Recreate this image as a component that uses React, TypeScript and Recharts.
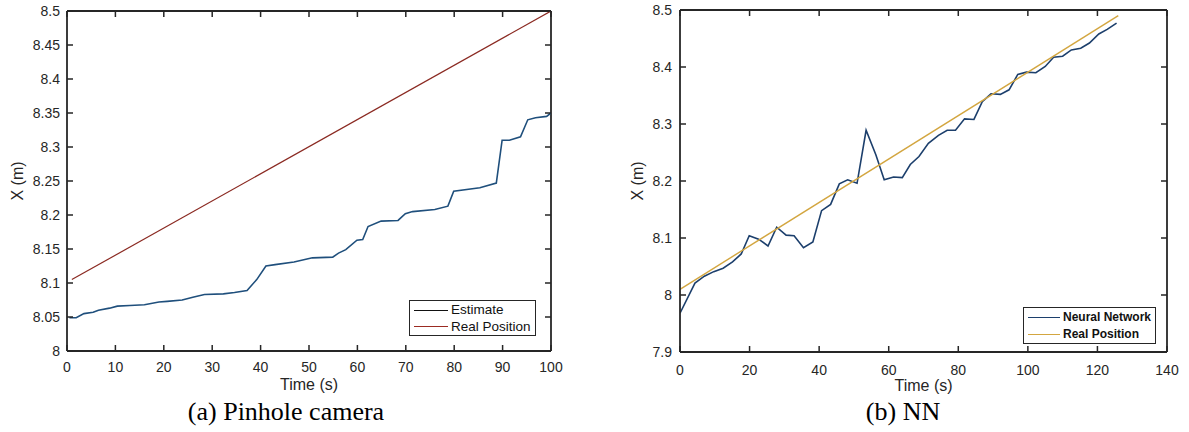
import { LineChart, Line, XAxis, YAxis, Label, ReferenceLine } from 'recharts';

// (a) pinhole camera
const pinTime = [0.5, 1.9, 3.5, 5.4, 6.5, 8.8, 10.4, 13, 16, 19, 20.7, 23.8, 26, 28.4, 32.3, 34.6, 37.2, 39.2, 41.1, 43, 46.9, 50.7, 54.9, 56.1, 57.6, 59.9, 61.1, 62.2, 64.9, 68.4, 69.9, 71.4, 76, 78.7, 79.9, 85.3, 88.7, 89.9, 91.4, 93.7, 95.2, 96.8, 99.1, 100];
const pinEstimate = [8.049, 8.049, 8.055, 8.057, 8.06, 8.063, 8.066, 8.067, 8.068, 8.072, 8.073, 8.075, 8.079, 8.083, 8.084, 8.086, 8.089, 8.105, 8.125, 8.127, 8.131, 8.137, 8.138, 8.144, 8.149, 8.163, 8.164, 8.183, 8.191, 8.192, 8.202, 8.205, 8.208, 8.213, 8.235, 8.24, 8.247, 8.31, 8.31, 8.315, 8.34, 8.343, 8.345, 8.35];
const pinRealTime = [1, 100];
const pinReal = [8.105, 8.5];
const pinXTicks = [0, 10, 20, 30, 40, 50, 60, 70, 80, 90, 100];
const pinYTicks = [8, 8.05, 8.1, 8.15, 8.2, 8.25, 8.3, 8.35, 8.4, 8.45, 8.5];

// (b) neural network
const nnTime = [0, 4.3, 7, 9.7, 12.4, 15.1, 17.6, 19.9, 22.6, 25.3, 27.8, 30.5, 32.8, 35.5, 38.2, 40.7, 43.3, 45.8, 48.2, 50.9, 53.5, 56.3, 58.7, 61.4, 63.9, 66.2, 68.7, 71.4, 74.3, 76.8, 79.2, 81.8, 84.5, 86.9, 89.4, 92.1, 94.6, 97.1, 99.6, 102.3, 105, 107.4, 110, 112.5, 115.2, 117.7, 120.4, 122.8, 125.5];
const nnEstimate = [7.968, 8.021, 8.033, 8.041, 8.047, 8.058, 8.072, 8.104, 8.098, 8.086, 8.119, 8.105, 8.104, 8.083, 8.093, 8.148, 8.159, 8.195, 8.202, 8.196, 8.289, 8.246, 8.202, 8.207, 8.206, 8.229, 8.243, 8.266, 8.28, 8.289, 8.289, 8.309, 8.308, 8.339, 8.353, 8.352, 8.36, 8.387, 8.391, 8.39, 8.401, 8.417, 8.419, 8.43, 8.433, 8.442, 8.458, 8.466, 8.477];
const nnRealTime = [0, 126];
const nnReal = [8.01, 8.49];
const nnXTicks = [0, 20, 40, 60, 80, 100, 120, 140];
const nnYTicks = [7.9, 8, 8.1, 8.2, 8.3, 8.4, 8.5];

const zip = (t: number[], v: number[]) => t.map((x, i) => ({ t: x, v: v[i] }));

const AXIS = '#262626';
const AXIS_W = 1.8;
const FONT = '"Liberation Sans", Arial, sans-serif';
const SERIF = '"Liberation Serif", "Times New Roman", serif';
const TICK_LEN = 6;

// ticks point inwards on all four sides, like matlab
const bottomTick = (plotTop: number, margin: number) => (p: any) => (
  <g>
    <path d={`M${p.x},${p.y - margin}v${-TICK_LEN}M${p.x},${plotTop}v${TICK_LEN}`} stroke={AXIS} strokeWidth={1.5} fill="none" />
    <text x={p.x} y={p.y} dy="0.71em" textAnchor="middle" fill={AXIS} fontSize={14} fontFamily={FONT}>
      {p.payload.value}
    </text>
  </g>
);

const leftTick = (plotRight: number, margin: number) => (p: any) => (
  <g>
    <path d={`M${p.x + margin},${p.y}h${TICK_LEN}M${plotRight},${p.y}h${-TICK_LEN}`} stroke={AXIS} strokeWidth={1.5} fill="none" />
    <text x={p.x} y={p.y} dy="0.35em" textAnchor="end" fill={AXIS} fontSize={14} fontFamily={FONT}>
      {p.payload.value}
    </text>
  </g>
);

type Series = { data: { t: number; v: number }[]; color: string; width: number; name: string; legendColor: string };

interface PanelProps {
  left: number; width: number; height: number; top: number; yWidth: number; right: number;
  xHeight: number; xMargin: number; yMargin: number; xLabelOffset: number; yLabelOffset: number;
  xDomain: [number, number]; yDomain: [number, number]; xTicks: number[]; yTicks: number[];
  series: Series[];
  legend: { left: number; top: number; w: number; h: number; size: number; bold?: boolean; swatch: number };
}

function Panel(p: PanelProps) {
  const plotRight = p.width - p.right;
  return (
    <div style={{ position: 'absolute', left: p.left, top: 0, width: p.width, height: p.height }}>
      <LineChart width={p.width} height={p.height} margin={{ top: p.top, right: p.right, left: 0, bottom: 0 }}>
        <XAxis
          dataKey="t" type="number" domain={p.xDomain} ticks={p.xTicks} allowDataOverflow interval={0}
          stroke={AXIS} strokeWidth={AXIS_W} tickLine={false} tickSize={0} tickMargin={p.xMargin} height={p.xHeight}
          tick={bottomTick(p.top, p.xMargin)}
        >
          <Label value="Time (s)" position="insideBottom" offset={p.xLabelOffset} fill={AXIS} fontSize={16} fontFamily={FONT} />
        </XAxis>
        <YAxis
          type="number" domain={p.yDomain} ticks={p.yTicks} allowDataOverflow width={p.yWidth} interval={0}
          stroke={AXIS} strokeWidth={AXIS_W} tickLine={false} tickSize={0} tickMargin={p.yMargin}
          tick={leftTick(plotRight, p.yMargin)}
        >
          <Label value="X (m)" angle={-90} position="insideLeft" offset={p.yLabelOffset} fill={AXIS} fontSize={16} fontFamily={FONT} style={{ textAnchor: 'middle' }} />
        </YAxis>
        {/* close the axes box on top and right */}
        <ReferenceLine y={p.yDomain[1]} stroke={AXIS} strokeWidth={AXIS_W} ifOverflow="visible" />
        <ReferenceLine x={p.xDomain[1]} stroke={AXIS} strokeWidth={AXIS_W} ifOverflow="visible" />
        {p.series.map((s) => (
          <Line
            key={s.name} data={s.data} dataKey="v" name={s.name} type="linear" stroke={s.color}
            strokeWidth={s.width} dot={false} isAnimationActive={false}
          />
        ))}
      </LineChart>
      <div
        style={{
          position: 'absolute', left: p.legend.left, top: p.legend.top, width: p.legend.w, height: p.legend.h,
          boxSizing: 'border-box', background: '#fff', border: `1.5px solid ${AXIS}`, padding: '1px 3px 0 4px',
          fontFamily: FONT, fontSize: p.legend.size, color: '#111', lineHeight: `${(p.legend.h - 3) / 2}px`,
          fontWeight: p.legend.bold ? 700 : 400,
        }}
      >
        {p.series.map((s) => (
          <div key={s.name} style={{ display: 'flex', alignItems: 'center', whiteSpace: 'nowrap' }}>
            <span style={{ display: 'inline-block', width: p.legend.swatch, height: 0, borderTop: `1.5px solid ${s.legendColor}`, marginRight: 3 }} />
            {s.name}
          </div>
        ))}
      </div>
    </div>
  );
}

export default function App() {
  return (
    <div style={{ position: 'absolute', left: 0, top: 0, width: 1189, height: 432, background: '#fff' }}>
      <Panel
        left={0} width={580} height={400} top={11} yWidth={67} right={29} xHeight={49}
        xMargin={11} yMargin={7} xLabelOffset={10} yLabelOffset={17}
        xDomain={[0, 100]} yDomain={[8, 8.5]} xTicks={pinXTicks} yTicks={pinYTicks}
        legend={{ left: 409, top: 300, w: 127, h: 36, size: 13.5, swatch: 34 }}
        series={[
          { name: 'Estimate', data: zip(pinTime, pinEstimate), color: '#1f4f7c', width: 1.6, legendColor: '#111' },
          { name: 'Real Position', data: zip(pinRealTime, pinReal), color: '#8b2a22', width: 1.2, legendColor: '#9b2b22' },
        ]}
      />
      <Panel
        left={600} width={589} height={402} top={10} yWidth={80} right={22} xHeight={50}
        xMargin={13} yMargin={8} xLabelOffset={11} yLabelOffset={37}
        xDomain={[0, 140]} yDomain={[7.9, 8.5]} xTicks={nnXTicks} yTicks={nnYTicks}
        legend={{ left: 423, top: 307, w: 133, h: 37, size: 12, bold: true, swatch: 32 }}
        series={[
          { name: 'Neural Network', data: zip(nnTime, nnEstimate), color: '#1c3f6c', width: 1.6, legendColor: '#1c3f6c' },
          { name: 'Real Position', data: zip(nnRealTime, nnReal), color: '#d3a640', width: 1.4, legendColor: '#d3a640' },
        ]}
      />
      <div style={{ position: 'absolute', left: 86, width: 400, top: 396, textAlign: 'center', fontFamily: SERIF, fontSize: 26, lineHeight: '32px', color: '#000' }}>
        (a) Pinhole camera
      </div>
      <div style={{ position: 'absolute', left: 703, width: 400, top: 396, textAlign: 'center', fontFamily: SERIF, fontSize: 26, lineHeight: '32px', color: '#000' }}>
        (b) NN
      </div>
    </div>
  );
}
